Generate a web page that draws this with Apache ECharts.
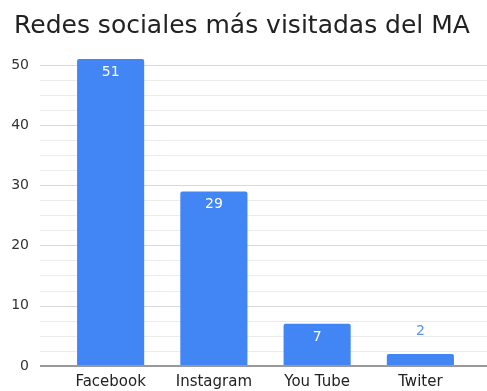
<!DOCTYPE html>
<html>
<head>
<meta charset="utf-8">
<script src="https://cdn.jsdelivr.net/npm/echarts@6/dist/echarts.min.js"></script>
<style>
  html, body { margin: 0; padding: 0; background: #fff; }
  #chart { width: 487px; height: 391px; }
</style>
</head>
<body>
<div id="chart"></div>
<script>
// data
const categories = ['Facebook', 'Instagram', 'You Tube', 'Twiter'];
const visits = [51, 29, 7, 2];
const yTicks = [0, 10, 20, 30, 40, 50];

const barBlue = '#4285f4';
const font = 'DejaVu Sans';

const chart = echarts.init(document.getElementById('chart'));

// short bars get their label above the bar
const barData = visits.map(v => {
  if (v < 5) {
    return {
      value: v,
      label: { position: 'top', color: '#5b93f5', distance: 16 }
    };
  }
  return v;
});

chart.setOption({
  animation: false,
  title: {
    text: 'Redes sociales más visitadas del MA',
    left: 9,
    top: 9,
    textStyle: { fontFamily: font, fontSize: 25, fontWeight: 'normal', color: '#222' }
  },
  grid: [
    // background grid (gridlines + y labels), full width
    { left: 40, right: 0, top: 65, bottom: 25 },
    // grid holding the bars
    { left: 59, right: 15, top: 65, bottom: 25 }
  ],
  xAxis: [
    { gridIndex: 0, type: 'value', min: 0, max: 1, show: false },
    {
      gridIndex: 1,
      type: 'category',
      data: categories,
      axisLine: { show: false },
      axisTick: { show: false },
      axisLabel: { color: '#222', fontFamily: font, fontSize: 15, margin: 9 }
    }
  ],
  yAxis: [
    {
      gridIndex: 0,
      type: 'value',
      min: yTicks[0],
      max: yTicks[yTicks.length - 1],
      interval: 10,
      axisLine: { show: false },
      axisTick: { show: false },
      axisLabel: { color: '#333', fontFamily: font, fontSize: 14, margin: 11 },
      splitLine: { lineStyle: { color: '#d9d9d9', width: 1 } },
      minorTick: { show: false, splitNumber: 4 },
      minorSplitLine: { show: true, lineStyle: { color: '#ececec', width: 1 } }
    },
    {
      gridIndex: 1,
      type: 'value',
      min: yTicks[0],
      max: yTicks[yTicks.length - 1],
      interval: 10,
      show: false
    }
  ],
  series: [
    {
      // zero baseline across the full width
      type: 'line',
      xAxisIndex: 0,
      yAxisIndex: 0,
      data: [[0, 0], [1, 0]],
      symbol: 'none',
      lineStyle: { color: '#999', width: 2 },
      z: 5,
      silent: true
    },
    {
      type: 'bar',
      xAxisIndex: 1,
      yAxisIndex: 1,
      data: barData,
      clip: false,
      barCategoryGap: '35%',
      itemStyle: { color: barBlue, borderRadius: [2, 2, 0, 0] },
      label: {
        show: true,
        position: 'insideTop',
        distance: 6,
        color: '#fff',
        fontFamily: font,
        fontSize: 14
      },
      z: 3
    }
  ]
});
</script>
</body>
</html>
